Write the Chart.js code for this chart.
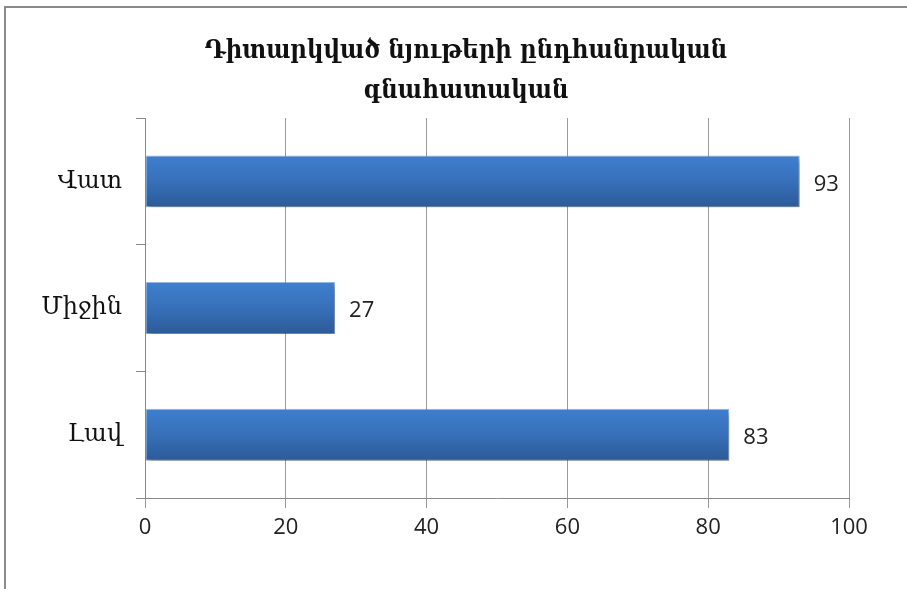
<!DOCTYPE html>
<html>
<head>
<meta charset="utf-8">
<script src="https://cdn.jsdelivr.net/npm/chart.js@4"></script>
<style>
  html, body { margin: 0; padding: 0; background: #fff; }
  #wrap { position: relative; width: 907px; height: 589px; }
  #frame {
    position: absolute; left: 4px; top: 6px; width: 920px; height: 600px;
    border-left: 2px solid #8a8a8a; border-top: 2px solid #8a8a8a;
    pointer-events: none;
  }
</style>
</head>
<body>
<div id="wrap">
  <canvas id="c" width="907" height="589"></canvas>
  <div id="frame"></div>
</div>
<script>
// chart data
const categories = ['Վատ', 'Միջին', 'Լավ'];
const scores = [93, 27, 83];
const xTicks = [0, 20, 40, 60, 80, 100];
const titleLines = ['Դիտարկված նյութերի ընդհանրական', 'գնահատական'];

const BAR_FRAC = 0.41;
const titleFont = '"DejaVu Serif Condensed", "DejaVu Serif", serif';
const labelFont = '"DejaVu Serif", serif';
const numFont = '"Open Sans", sans-serif';

// vertical gradient per bar, from the y scale position of its category
function barGradient(c) {
  const chart = c.chart;
  const area = chart.chartArea;
  if (!area) return '#3a72bb';
  const yc = chart.scales.y.getPixelForValue(c.dataIndex);
  const h = (area.bottom - area.top) / categories.length * BAR_FRAC;
  const g = chart.ctx.createLinearGradient(0, yc - h / 2, 0, yc + h / 2);
  g.addColorStop(0, '#3e7fce');
  g.addColorStop(0.5, '#3770b9');
  g.addColorStop(1, '#2c5a97');
  return g;
}

// the y scale is narrow (so the title centres right); let its labels spill left
const unclipLabels = {
  id: 'unclipLabels',
  afterLayout(chart) {
    chart.scales.y.left = 0;
  },
};

const barShadow = {
  id: 'barShadow',
  beforeDatasetDraw(chart) {
    const ctx = chart.ctx;
    ctx.save();
    ctx.shadowColor = 'rgba(0,0,0,0.35)';
    ctx.shadowBlur = 6;
    ctx.shadowOffsetX = 2;
    ctx.shadowOffsetY = 4;
  },
  afterDatasetDraw(chart) {
    chart.ctx.restore();
  },
};

const valueLabels = {
  id: 'valueLabels',
  afterDatasetsDraw(chart) {
    const ctx = chart.ctx;
    const meta = chart.getDatasetMeta(0);
    ctx.save();
    ctx.font = '22px ' + numFont;
    ctx.fillStyle = '#222';
    ctx.textBaseline = 'middle';
    ctx.textAlign = 'left';
    meta.data.forEach((el, i) => {
      ctx.fillText(String(scores[i]), el.x + 14, el.y + 3);
    });
    ctx.restore();
  },
};

new Chart(document.getElementById('c'), {
  type: 'bar',
  data: {
    labels: categories,
    datasets: [{
      data: scores,
      backgroundColor: barGradient,
      borderColor: 'rgba(90,140,210,0.6)',
      borderWidth: 1,
      borderSkipped: false,
      barPercentage: BAR_FRAC,
      categoryPercentage: 1,
    }],
  },
  options: {
    indexAxis: 'y',
    responsive: false,
    animation: false,
    // left/right padding chosen so the title centres where the original does
    layout: { padding: { left: 83, right: 58, top: 0, bottom: 0 } },
    plugins: {
      legend: { display: false },
      tooltip: { enabled: false },
      title: {
        display: true,
        text: titleLines,
        color: '#111',
        font: { family: titleFont, size: 25.5, weight: 'bold', lineHeight: 1.55 },
        padding: { top: 32, bottom: 7 },
      },
    },
    scales: {
      x: {
        min: 0,
        max: 100,
        afterBuildTicks: s => { s.ticks = xTicks.map(v => ({ value: v })); },
        afterFit: s => { s.height = 91; },
        ticks: {
          color: '#222',
          font: { family: numFont, size: 22 },
          padding: 7,
        },
        grid: { color: '#9a9a9a', lineWidth: 1, tickLength: 10, drawTicks: true },
        border: { color: '#8a8a8a', width: 1 },
      },
      y: {
        afterFit: s => { s.width = 62; },
        ticks: {
          color: '#111',
          font: { family: labelFont, size: 24 },
          padding: 14,
        },
        grid: {
          offset: true,
          drawOnChartArea: false,
          drawTicks: true,
          tickLength: 9,
          color: '#8a8a8a',
        },
        border: { color: '#8a8a8a', width: 1 },
      },
    },
  },
  plugins: [unclipLabels, barShadow, valueLabels],
});
</script>
</body>
</html>
